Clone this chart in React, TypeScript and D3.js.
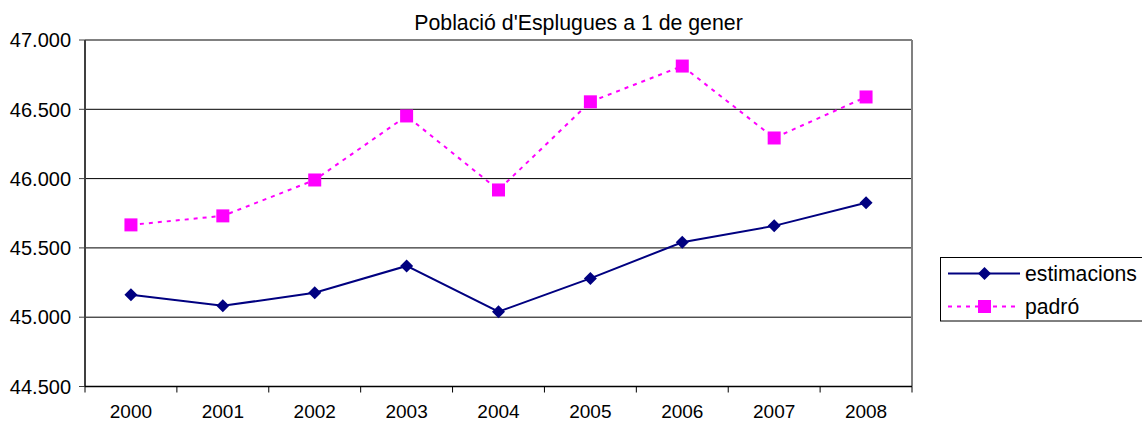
import React from "react";
import * as d3 from "d3";

const years = ["2000", "2001", "2002", "2003", "2004", "2005", "2006", "2007", "2008"];
const estimacions = [45162, 45082, 45176, 45370, 45040, 45280, 45541, 45659, 45826];
const padro = [45666, 45731, 45990, 46452, 45918, 46554, 46812, 46293, 46589];
const yTicks = [44500, 45000, 45500, 46000, 46500, 47000];
const title = "Població d'Esplugues a 1 de gener";
const seriesNames = ["estimacions", "padró"];

const W = 1142, H = 423;
const L = 85, R = 912, T = 40, B = 386.5;
const FONT = "'Liberation Sans', Arial, sans-serif";
const NAVY = "#000080";
const MAG = "#FF00FF";

export default function App() {
  const x = d3.scaleBand<string>().domain(years).range([L, R]);
  const y = d3.scaleLinear().domain([44500, 47000]).range([B, T]);
  const cx = (c: string) => (x(c) as number) + x.bandwidth() / 2;
  const line = d3.line<number>().x((_, i) => cx(years[i])).y((v) => y(v));
  const fmt = (v: number) => d3.format(",")(v).replace(/,/g, ".");
  const diamond = (px: number, py: number, r = 6.5) =>
    `M${px},${py - r}L${px + r},${py}L${px},${py + r}L${px - r},${py}Z`;
  const sq = 13;
  const bounds = years.map((c) => x(c) as number).concat([R]);

  return (
    <svg width={W} height={H} style={{ position: "absolute", left: 0, top: 0, background: "#fff" }}>
      <rect x={0} y={0} width={W} height={H} fill="#fff" />
      {/* gridlines */}
      {yTicks.slice(1, -1).map((t) => (
        <line key={t} x1={L} x2={R} y1={y(t)} y2={y(t)} stroke="#000" strokeWidth={1} />
      ))}
      {/* top and right border */}
      <line x1={L} x2={R} y1={y(47000)} y2={y(47000)} stroke="#808080" strokeWidth={2} />
      <line x1={R} x2={R} y1={T} y2={B} stroke="#808080" strokeWidth={2} />
      {/* y axis */}
      <line x1={L} x2={L} y1={T} y2={B} stroke="#404040" strokeWidth={2} />
      {yTicks.map((t) => (
        <g key={t}>
          <line x1={L - 6} x2={L} y1={y(t)} y2={y(t)} stroke="#404040" strokeWidth={1} />
          <text x={71} y={y(t)} dy="0.36em" textAnchor="end" fontFamily={FONT} fontSize={20} fill="#000">
            {fmt(t)}
          </text>
        </g>
      ))}
      {/* x axis */}
      <line x1={L} x2={R} y1={B} y2={B} stroke="#000" strokeWidth={1.5} />
      {bounds.map((b, i) => (
        <line key={i} x1={b} x2={b} y1={B} y2={B + 6} stroke="#000" strokeWidth={1} />
      ))}
      {years.map((c) => (
        <text key={c} x={cx(c)} y={418} textAnchor="middle" fontFamily={FONT} fontSize={19} fill="#000">
          {c}
        </text>
      ))}
      {/* title */}
      <text x={578.5} y={30} textAnchor="middle" fontFamily={FONT} fontSize={21.3} fill="#000">
        {title}
      </text>
      {/* padró series */}
      <path d={line(padro) || ""} fill="none" stroke={MAG} strokeWidth={2} strokeDasharray="4,5" />
      {padro.map((v, i) => (
        <rect key={i} x={cx(years[i]) - sq / 2} y={y(v) - sq / 2} width={sq} height={sq} fill={MAG} />
      ))}
      {/* estimacions series */}
      <path d={line(estimacions) || ""} fill="none" stroke={NAVY} strokeWidth={2} />
      {estimacions.map((v, i) => (
        <path key={i} d={diamond(cx(years[i]), y(v))} fill={NAVY} />
      ))}
      {/* legend */}
      <rect x={940.5} y={257.5} width={220} height={63.5} fill="#fff" stroke="#000" strokeWidth={1} />
      <line x1={948} x2={1020} y1={273.5} y2={273.5} stroke={NAVY} strokeWidth={2} />
      <path d={diamond(984.5, 273.5)} fill={NAVY} />
      <text x={1025} y={273.5} dy="0.36em" fontFamily={FONT} fontSize={21.2} fill="#000">
        {seriesNames[0]}
      </text>
      <line x1={948} x2={1020} y1={306.5} y2={306.5} stroke={MAG} strokeWidth={2} strokeDasharray="4,5" />
      <rect x={984.5 - sq / 2} y={306.5 - sq / 2} width={sq} height={sq} fill={MAG} />
      <text x={1025} y={306.5} dy="0.36em" fontFamily={FONT} fontSize={21.2} fill="#000">
        {seriesNames[1]}
      </text>
    </svg>
  );
}
